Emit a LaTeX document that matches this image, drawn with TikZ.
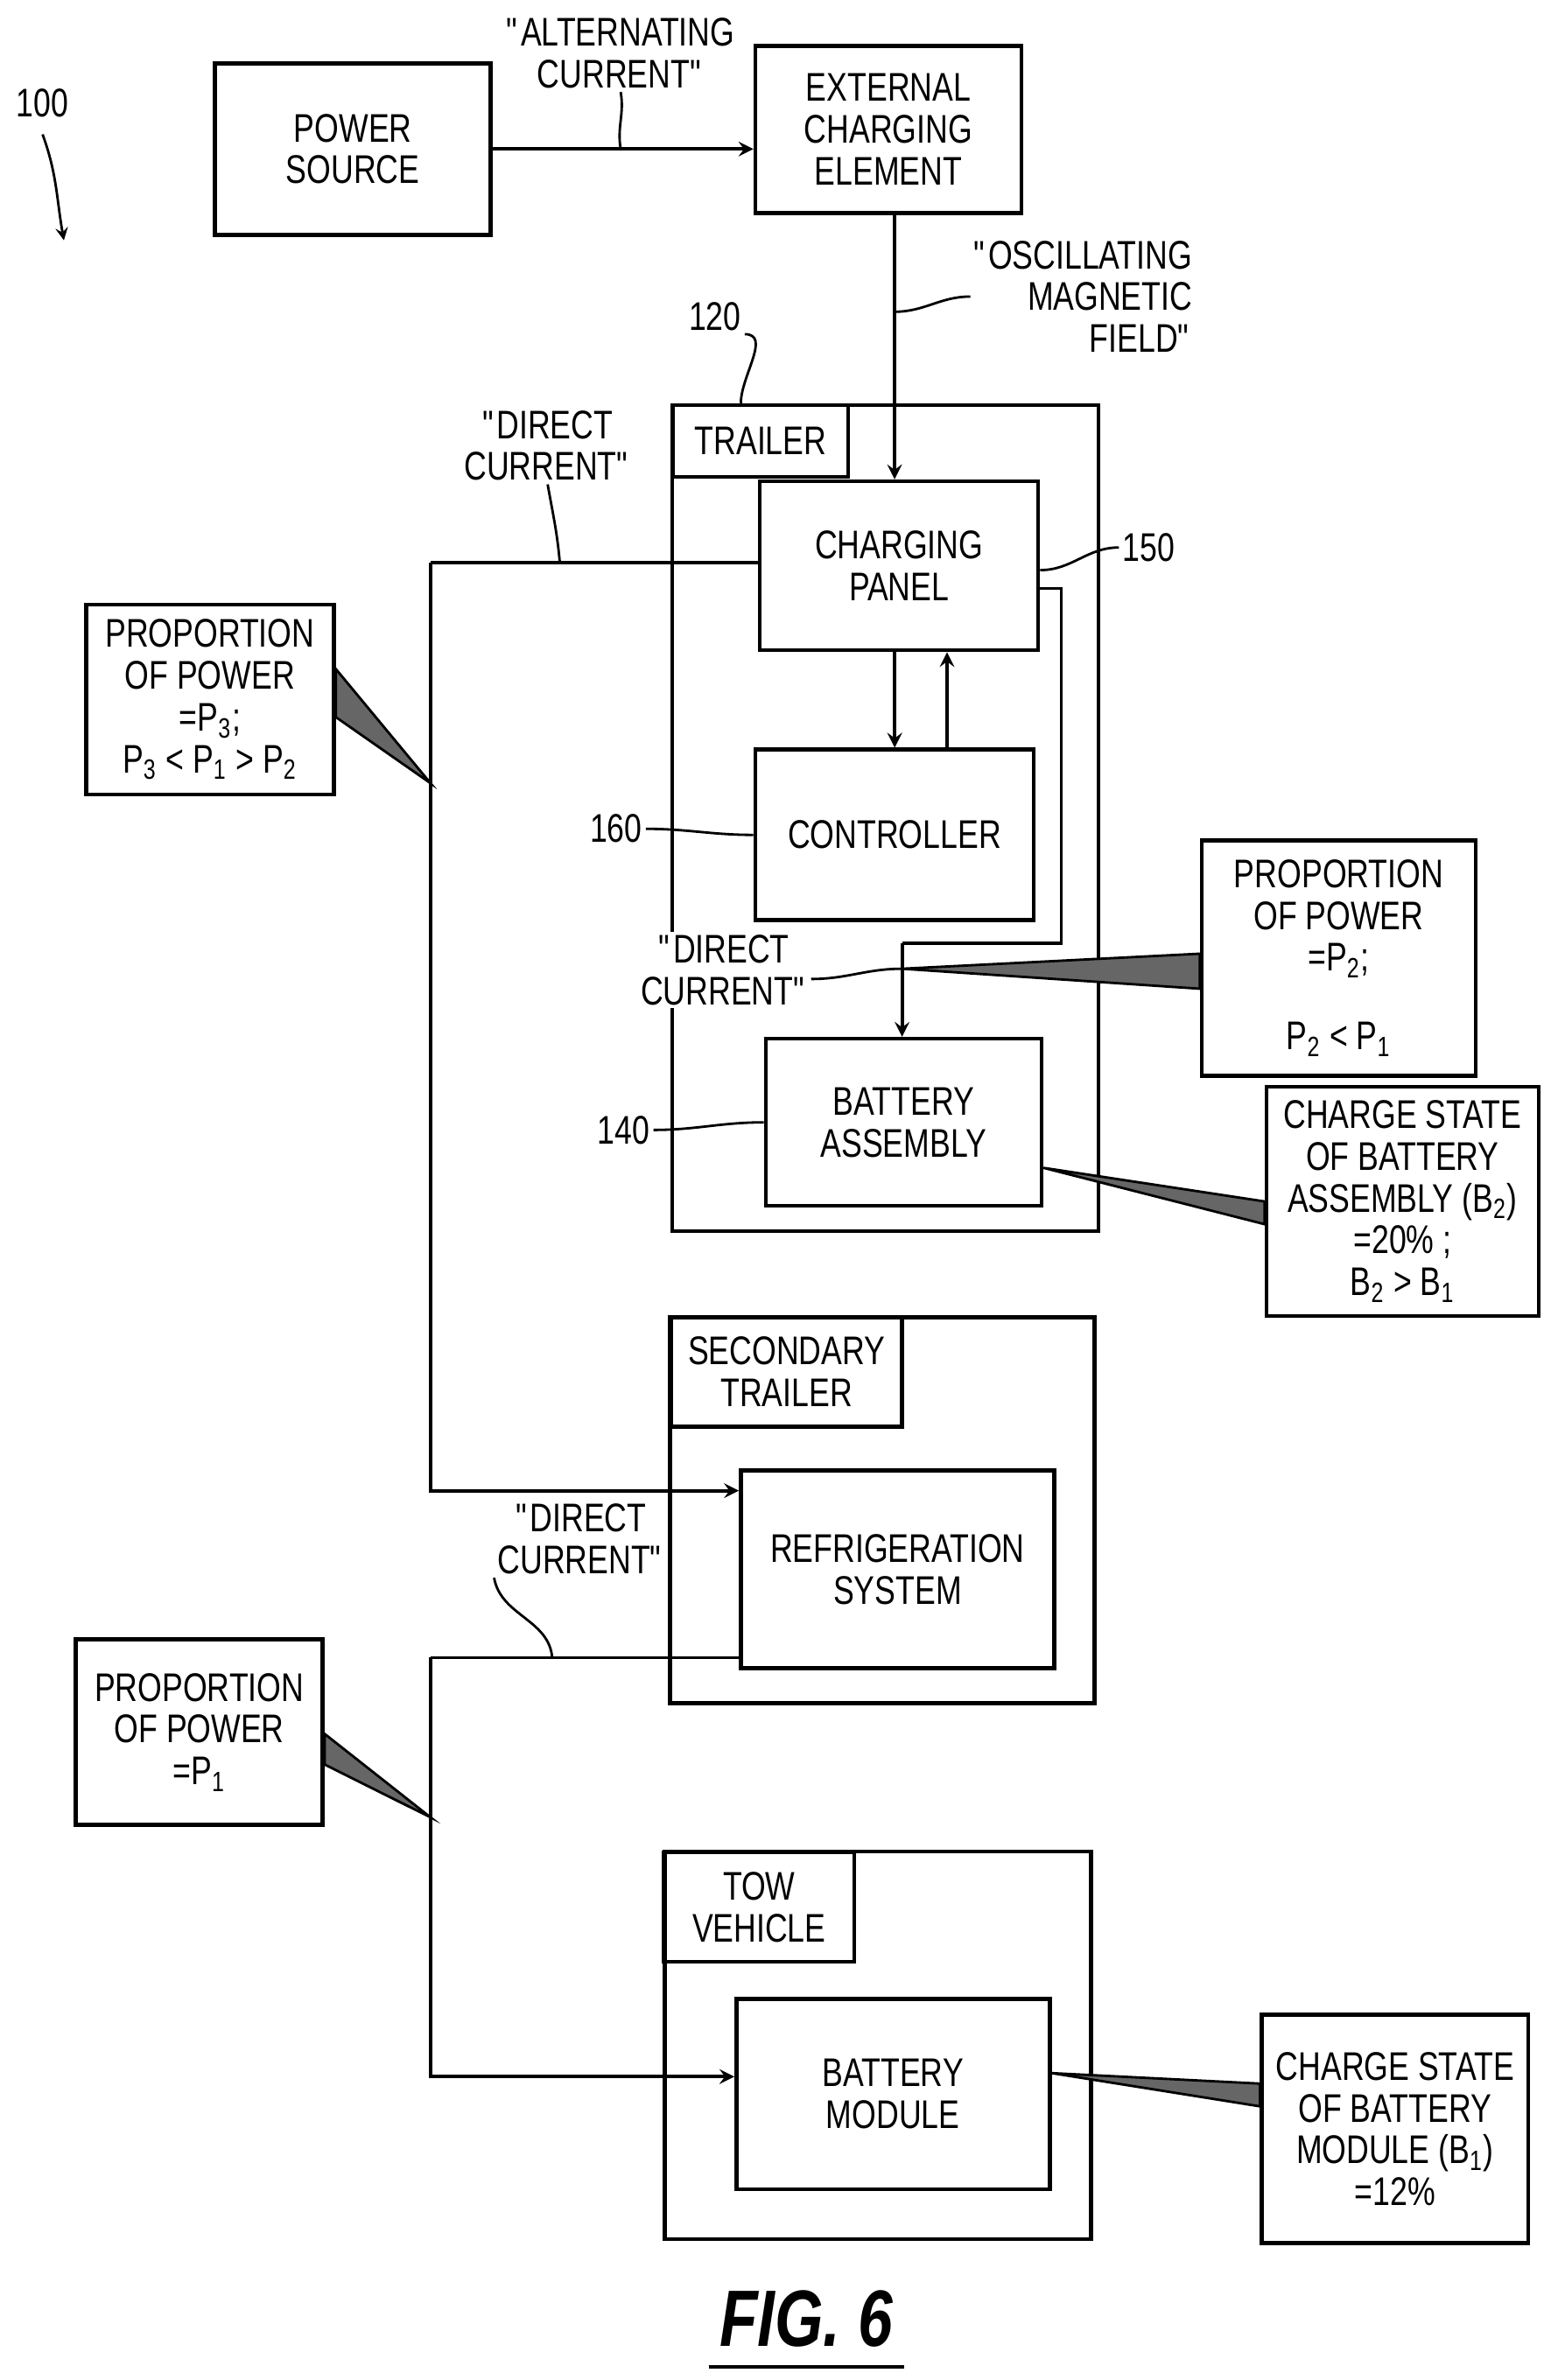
\documentclass[tikz,border=0pt]{standalone}
\usepackage{fontspec}
\setmainfont{Liberation Sans}[FakeStretch=0.78]
\usepackage{tikz}
\newcommand\qq{\textquotedbl}
\begin{document}
\begin{tikzpicture}[x=0.01738cm,y=-0.01738cm,>=stealth]
			\tikzstyle{every node}=[font=\fontsize{13}{13.6}\selectfont]
			\tikzstyle{blk}=[draw,line width=1.3pt,align=center,inner sep=0pt]
			\tikzstyle{frame}=[draw,line width=1.3pt,inner sep=0pt]
			\tikzstyle{callout}=[draw,line width=1.3pt,align=center,inner sep=0pt,fill=white]
			\tikzstyle{wedge}=[draw,line width=0.8pt,fill=black!60]
			\tikzstyle{conn}=[line width=1.1pt]
			\tikzstyle{lead}=[line width=0.8pt]
			\tikzstyle{lbl}=[align=center,inner sep=1pt]

			\useasboundingbox (0,0) rectangle (1024,1565);

			% top row
			\node [lbl] (n100) at (28,68) {100};
			\coordinate (a100) at (42,158);
			\draw [lead,->] ([yshift=-0.15cm]n100.south) to[out=-70,in=100] (a100);
			\node [blk,minimum width=3.15cm,minimum height=1.96cm] (psrc) at (232,98) {POWER\\SOURCE};
			\node [blk,minimum width=3.04cm,minimum height=1.91cm] (ece) at (584,85) {EXTERNAL\\CHARGING\\ELEMENT};
			\node [lbl] (lblAC) at (408,35) {\qq ALTERNATING\\CURRENT\qq};
			\coordinate (pAC) at (408,98);
			\node [lbl,align=right] (lblOMF) at (712,195) {\qq OSCILLATING\\MAGNETIC\\FIELD\qq};
			\coordinate (pOMF) at (588,205);

			% trailer
			\node [frame,minimum width=4.87cm,minimum height=9.44cm] (trl) at (582,538) {};
			\node [blk,minimum width=2.0cm,minimum height=0.82cm] (trltab) at (500,290) {TRAILER};
			\node [lbl] (n120) at (470,208) {120};
			\node [blk,minimum width=3.18cm,minimum height=1.93cm,fill=white] (panel) at (591,372) {CHARGING\\PANEL};
			\node [blk,minimum width=3.18cm,minimum height=1.95cm] (ctrl) at (588,549) {CONTROLLER};
			\node [blk,minimum width=3.15cm,minimum height=1.91cm] (batt) at (594,738) {BATTERY\\ASSEMBLY};
			\node [lbl] (n150) at (755,360) {150};
			\node [lbl] (n160) at (405,545) {160};
			\node [lbl] (n140) at (410,743) {140};
			\coordinate (dcA) at (593,620);
			\coordinate (dcB) at (593,637);
			\node [lbl,fill=white] (lblDC2) at (476,638) {\qq DIRECT\\CURRENT\qq};

			% secondary trailer
			\node [frame,minimum width=4.85cm,minimum height=4.41cm] (sec) at (580,993) {};
			\node [blk,minimum width=2.64cm,minimum height=1.25cm] (sectab) at (517,902) {SECONDARY\\TRAILER};
			\node [blk,minimum width=3.58cm,minimum height=2.26cm] (refr) at (590,1032) {REFRIGERATION\\SYSTEM};

			% tow vehicle
			\node [frame,minimum width=4.87cm,minimum height=4.43cm] (tow) at (577,1345) {};
			\node [blk,minimum width=2.17cm,minimum height=1.25cm] (towtab) at (499,1254) {TOW\\VEHICLE};
			\node [blk,minimum width=3.58cm,minimum height=2.17cm] (bmod) at (587,1377) {BATTERY\\MODULE};

			% buses
			\coordinate (busA) at (283,370);
			\coordinate (busB) at (283,515);
			\coordinate (busC) at (283,1090);
			\coordinate (busD) at (283,1195);
			\node [lbl] (lblDC1) at (360,293) {\qq DIRECT\\CURRENT\qq};
			\node [lbl] (lblDC3) at (382,1012) {\qq DIRECT\\CURRENT\qq};
			\coordinate (pDC1) at (368,370);
			\coordinate (pDC3) at (363,1090);

			% callouts
			\node [callout,minimum width=3.13cm,minimum height=2.69cm] (cP2) at (880,630) {PROPORTION\\OF POWER\\=P\textsubscript{2};\\[12pt]P\textsubscript{2} < P\textsubscript{1}};
			\node [callout,minimum width=3.11cm,minimum height=2.62cm] (cB2) at (922,790) {CHARGE STATE\\OF BATTERY\\ASSEMBLY (B\textsubscript{2})\\=20\% ;\\B\textsubscript{2} > B\textsubscript{1}};
			\node [callout,minimum width=2.83cm,minimum height=2.17cm] (cP3) at (138,460) {PROPORTION\\OF POWER\\=P\textsubscript{3};\\P\textsubscript{3} < P\textsubscript{1} > P\textsubscript{2}};
			\node [callout,minimum width=2.82cm,minimum height=2.12cm] (cP1) at (131,1139) {PROPORTION\\OF POWER\\=P\textsubscript{1}};
			\node [callout,minimum width=3.04cm,minimum height=2.61cm] (cB1) at (917,1400) {CHARGE STATE\\OF BATTERY\\MODULE (B\textsubscript{1})\\=12\%};

			% connectors
			\draw [conn,->] (psrc.east) -- (psrc.east -| ece.west);
			\draw [conn,->] ([xshift=0.07cm]ece.south) -- ([xshift=0.07cm]ece.south |- panel.north);
			\draw [conn,->] ([xshift=-0.05cm]panel.south) -- ([xshift=-0.05cm]panel.south |- ctrl.north);
			\draw [conn,->] ([xshift=0.6cm]ctrl.north) -- ([xshift=0.6cm]ctrl.north |- panel.south);
			\draw [conn] ([yshift=-0.26cm]panel.east) -- ++(0.24cm,0) |- (dcA);
			\draw [conn,->] (dcA) -- (dcA |- batt.north);
			\draw [conn] (busA -| panel.west) -- (busA);
			\draw [conn,->] (busA) |- ([yshift=0.9cm]refr.west);
			\draw [conn] (busC -| refr.west) -- (busC);
			\draw [conn,->] (busC) |- ([yshift=0.2cm]bmod.west);

			% wedges
			\draw [wedge] ([yshift=0.05cm]cP2.west) -- (dcB) -- ([yshift=-0.35cm]cP2.west) -- cycle;
			\draw [wedge] ([yshift=0cm]cB2.west) -- ([yshift=-0.52cm]batt.east) -- ([yshift=-0.26cm]cB2.west) -- cycle;
			\draw [wedge] ([yshift=0.35cm]cP3.east) -- (busB) -- ([yshift=-0.2cm]cP3.east) -- cycle;
			\draw [wedge] ([yshift=-0.02cm]cP1.east) -- (busD) -- ([yshift=-0.37cm]cP1.east) -- cycle;
			\draw [wedge] ([yshift=0.52cm]cB1.west) -- ([yshift=0.24cm]bmod.east) -- ([yshift=0.26cm]cB1.west) -- cycle;

			% leaders
			\draw [lead] (lblAC.south) to[out=-80,in=100] (pAC);
			\draw [lead] (lblOMF.west) to[out=180,in=0] (pOMF);
			\draw [lead] (n120.south east) to[out=0,in=90] (trl.north west -| 487,0);
			\draw [lead] (lblDC1.south) to[out=-80,in=95] (pDC1);
			\draw [lead] ([yshift=-0.05cm]panel.east) to[out=0,in=180] (n150.west);
			\draw [lead] (n160.east) to[out=0,in=180] (ctrl.west);
			\draw [lead] (n140.east) to[out=0,in=180] (batt.west);
			\draw [lead] ([yshift=-0.1cm]lblDC2.east) to[out=0,in=180] (dcB);
			\draw [lead] (lblDC3.south west) to[out=-80,in=95] (pDC3);

			% figure label
			\node [font=\fontsize{26}{28}\selectfont\bfseries\itshape] (fig) at (530,1525) {FIG. 6};
			\draw [line width=1.2pt] ([yshift=-0.1cm]fig.south west) -- ([yshift=-0.1cm]fig.south east);
\end{tikzpicture}
\end{document}
